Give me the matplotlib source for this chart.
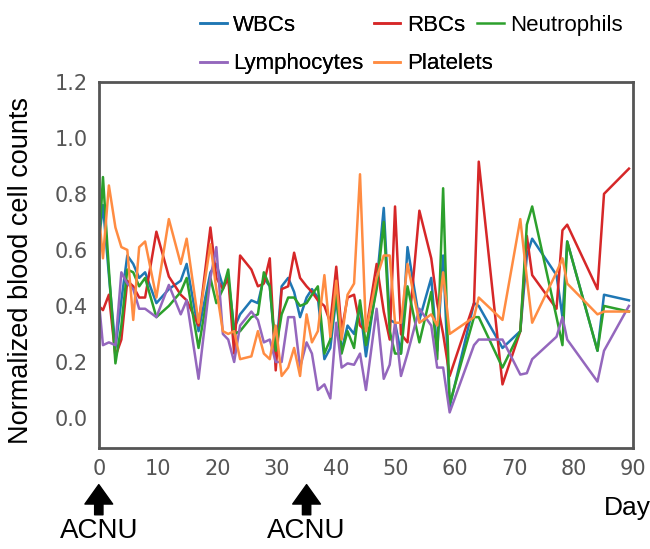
import numpy as np
import matplotlib as mpl
import matplotlib.pyplot as plt

# sampling days
days = [0, 0.7, 1.7, 2.8, 3.8, 4.8, 5.8, 6.8, 7.8, 9.7, 11.8, 13.8, 14.8, 16.8,
        18.8, 19.8, 20.9, 21.8, 22.8, 23.8, 25.7, 26.8, 27.8, 28.8, 29.8, 30.8,
        31.9, 32.9, 33.9, 35.0, 35.9, 36.9, 38.0, 39.0, 40.0, 40.9, 41.9, 43.0,
        44.0, 45.0, 46.8, 48.0, 49.0, 49.9, 50.9, 52.0, 54.0, 56.0, 57.0, 58.0,
        59.1, 63.2, 64.0, 68.0, 71.0, 72.1, 73.0, 77.1, 78.1, 78.9, 84.0, 85.1, 89.3]

wbc = [0.63, 0.76, 0.51, 0.25, 0.42, 0.58, 0.55, 0.50, 0.52, 0.41, 0.46, 0.49, 0.55, 0.31,
       0.52, 0.55, 0.47, 0.50, 0.32, 0.37, 0.42, 0.41, 0.50, 0.47, 0.22, 0.47,
       0.50, 0.45, 0.36, 0.43, 0.46, 0.43, 0.21, 0.25, 0.43, 0.24, 0.33, 0.30,
       0.40, 0.22, 0.48, 0.75, 0.35, 0.34, 0.23, 0.61, 0.35, 0.50, 0.24, 0.58,
       0.04, 0.41, 0.40, 0.25, 0.31, 0.58, 0.64, 0.51, 0.36, 0.63, 0.24, 0.44, 0.42]

rbc = [0.40, 0.385, 0.44, 0.22, 0.28, 0.49, 0.47, 0.43, 0.43, 0.665, 0.505, 0.44, 0.42, 0.33,
       0.68, 0.50, 0.46, 0.50, 0.23, 0.58, 0.53, 0.47, 0.48, 0.57, 0.17, 0.46,
       0.47, 0.59, 0.50, 0.47, 0.45, 0.42, 0.40, 0.34, 0.54, 0.31, 0.43, 0.44,
       0.33, 0.31, 0.55, 0.38, 0.28, 0.755, 0.30, 0.27, 0.74, 0.57, 0.41, 0.30,
       0.15, 0.41, 0.915, 0.12, 0.31, 0.65, 0.51, 0.39, 0.67, 0.69, 0.46, 0.80, 0.89]

neutro = [0.60, 0.86, 0.53, 0.195, 0.33, 0.53, 0.52, 0.47, 0.50, 0.36, 0.40, 0.45, 0.50, 0.25,
          0.50, 0.41, 0.46, 0.53, 0.30, 0.31, 0.36, 0.37, 0.52, 0.47, 0.24, 0.37,
          0.43, 0.43, 0.40, 0.41, 0.44, 0.47, 0.23, 0.28, 0.45, 0.23, 0.31, 0.25,
          0.42, 0.26, 0.46, 0.70, 0.31, 0.23, 0.23, 0.47, 0.27, 0.45, 0.21, 0.82,
          0.05, 0.36, 0.36, 0.18, 0.31, 0.69, 0.755, 0.36, 0.26, 0.63, 0.24, 0.40, 0.38]

lympho = [0.42, 0.26, 0.27, 0.26, 0.52, 0.48, 0.46, 0.39, 0.39, 0.36, 0.475, 0.37, 0.42, 0.14,
          0.50, 0.61, 0.30, 0.28, 0.20, 0.33, 0.38, 0.35, 0.27, 0.28, 0.20, 0.20,
          0.36, 0.36, 0.18, 0.27, 0.23, 0.10, 0.12, 0.07, 0.34, 0.18, 0.195, 0.19,
          0.23, 0.10, 0.39, 0.14, 0.19, 0.34, 0.15, 0.23, 0.39, 0.33, 0.18, 0.18,
          0.02, 0.26, 0.28, 0.28, 0.155, 0.16, 0.21, 0.29, 0.36, 0.28, 0.13, 0.24, 0.40]

platelets = [0.73, 0.57, 0.83, 0.68, 0.61, 0.60, 0.35, 0.61, 0.63, 0.43, 0.71, 0.55, 0.64, 0.34,
             0.62, 0.46, 0.31, 0.30, 0.31, 0.21, 0.22, 0.31, 0.23, 0.21, 0.33, 0.15,
             0.18, 0.25, 0.15, 0.37, 0.27, 0.31, 0.51, 0.29, 0.49, 0.28, 0.44, 0.48,
             0.87, 0.31, 0.50, 0.58, 0.58, 0.34, 0.34, 0.55, 0.34, 0.37, 0.33, 0.52,
             0.30, 0.36, 0.43, 0.35, 0.71, 0.50, 0.34, 0.52, 0.57, 0.48, 0.37, 0.38, 0.38]

series = {
    'WBCs': (wbc, '#1f77b4'),
    'RBCs': (rbc, '#d62728'),
    'Neutrophils': (neutro, '#2ca02c'),
    'Lymphocytes': (lympho, '#9467bd'),
    'Platelets': (platelets, '#ff8c42'),
}

plt.rcParams['font.family'] = ['Liberation Sans', 'DejaVu Sans']

fig = plt.figure(figsize=(6.5, 5.49), dpi=100)
ax = fig.add_axes([0.152, 0.184, 0.822, 0.667])

lines = {}
for name, (vals, col) in series.items():
    lines[name], = ax.plot(days, vals, color=col, lw=1.8, label=name)

ax.set_xlim(0, 90)
ax.set_ylim(-0.107, 1.2)
ax.set_xticks(np.arange(0, 91, 10))
ax.set_yticks(np.arange(0, 1.21, 0.2))
ax.set_yticklabels(['%.1f' % v for v in np.arange(0, 1.21, 0.2)])
for lab in ax.get_xticklabels() + ax.get_yticklabels():
    lab.set_family('DejaVu Sans')
ax.tick_params(length=0, labelsize=15, labelcolor='#555555', pad=8)
for sp in ax.spines.values():
    sp.set_color('#555555')
    sp.set_linewidth(2)

ax.set_ylabel('Normalized blood cell counts', fontsize=19.5)
ax.yaxis.set_label_coords(-0.122, 0.485)

# legend: row 1 WBCs RBCs (+ Neutrophils), row 2 Lymphocytes Platelets
leg_kw = dict(frameon=False, fontsize=16, loc='upper left', handlelength=1.2,
              handletextpad=0.3, columnspacing=0.45, labelspacing=0.8)
order = ['WBCs', 'Lymphocytes', 'RBCs', 'Platelets']
leg1 = fig.legend([lines[n] for n in order], order, ncol=2,
                  bbox_to_anchor=(0.277, 1.01), **leg_kw)
fig.add_artist(leg1)
fig.legend([lines['Neutrophils']], ['Neutrophils'], ncol=1,
           bbox_to_anchor=(0.703, 1.01), **leg_kw)

# ACNU arrows
for d in [0, 35]:
    ax.annotate('ACNU', xy=(d, -0.10), xycoords=('data', 'axes fraction'),
                xytext=(d, -0.19), textcoords=('data', 'axes fraction'),
                ha='center', va='top', fontsize=20,
                arrowprops=dict(facecolor='black', edgecolor='black', width=6,
                                headwidth=20, headlength=14, shrink=0))

ax.text(0.99, -0.165, 'Day', transform=ax.transAxes, ha='center', va='center',
        fontsize=19)

fig.savefig('out.png', dpi=100)
